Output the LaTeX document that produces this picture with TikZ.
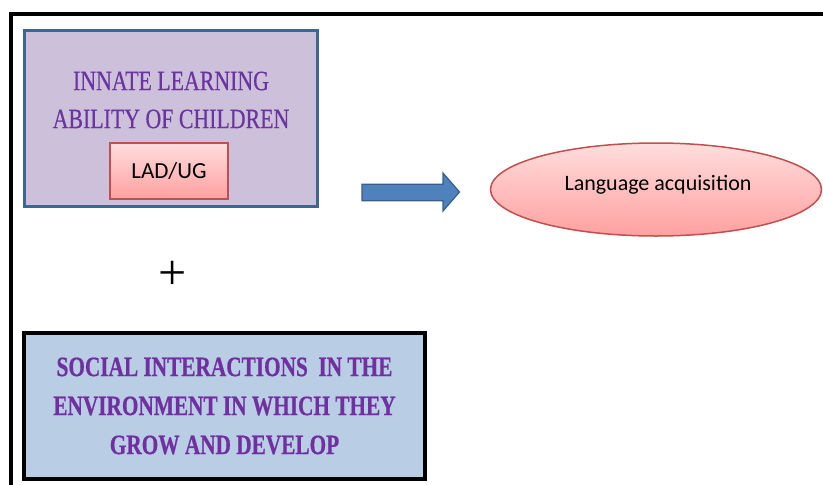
\documentclass[tikz,border=0pt]{standalone}
\usepackage{fontspec}
\setmainfont{Liberation Serif}
\newfontfamily\condserif[FakeStretch=0.78,FakeBold=0.5]{Liberation Serif}
\newfontfamily\condserifb[FakeStretch=0.76,FakeBold=0.6]{Liberation Serif Bold}
\newfontfamily\calib{Carlito}
\usetikzlibrary{shapes.geometric}
\definecolor{boxone}{HTML}{CCC0DA}
\definecolor{boxoneborder}{HTML}{3F6592}
\definecolor{boxtwo}{HTML}{B9CDE5}
\definecolor{purpletext}{HTML}{6A35A0}
\definecolor{purplebold}{HTML}{7030A0}
\definecolor{redborder}{HTML}{C0504D}
\definecolor{pinktop}{HTML}{FFDDDD}
\definecolor{pinkbot}{HTML}{FFA0A0}
\definecolor{arrowfill}{HTML}{4F81BD}
\definecolor{arrowborder}{HTML}{385D8A}
\tikzset{
  frameline/.style={line width=4pt, black},
  innatebox/.style={draw=boxoneborder, line width=3pt, fill=boxone, minimum width=293pt, minimum height=176pt, inner sep=0pt},
  socialbox/.style={draw=black, line width=4pt, fill=boxtwo, minimum width=401pt, minimum height=146pt, inner sep=0pt},
  pinkfill/.style={draw=redborder, line width=1.5pt, top color=pinktop, bottom color=pinkbot},
  ladbox/.style={pinkfill, minimum width=118pt, minimum height=56pt, inner sep=0pt, font={\calib\fontsize{23}{26}\selectfont}},
  acqell/.style={pinkfill, ellipse, minimum width=331pt, minimum height=93pt, inner sep=0pt},
  titletext/.style={align=center, text=purpletext, font={\condserif\fontsize{28}{38}\selectfont}},
  socialtext/.style={align=center, text=purplebold, font={\condserifb\fontsize{28}{39}\selectfont}},
  blockarrow/.style={fill=arrowfill, draw=arrowborder, line width=1.2pt, line join=miter}
}
\begin{document}
\begin{tikzpicture}[x=1pt, y=-1pt]
\useasboundingbox (0,0) rectangle (823,485);
% frame
\coordinate (ftr) at (823,14);
\coordinate (ftl) at (11.3,14);
\coordinate (fbl) at (11.3,485);
\draw[frameline] (ftr) -- (ftl) -- (fbl);
% top box
\node[innatebox] (innate) at (170.5,118) {};
\node[titletext] (innatetxt) at (171,100) {INNATE LEARNING\\ABILITY OF CHILDREN};
\node[ladbox] (lad) at (169,171) {LAD/UG};
% plus
\node[font=\fontsize{50}{50}\selectfont, inner sep=0pt] (plus) at (172.5,275.5) {+};
% bottom box
\node[socialbox] (social) at (224.5,405.5) {};
\node[socialtext] (socialtxt) at (224.5,406) {SOCIAL INTERACTIONS\ \ IN THE\\ENVIRONMENT IN WHICH THEY\\GROW AND DEVELOP};
% arrow
\draw[blockarrow] (362,184.3) -- (443,184.3) -- (443,173) -- (459.5,192) -- (443,211) -- (443,200.7) -- (362,200.7) -- cycle;
% ellipse
\node[acqell] (acq) at (656,189.5) {};
\node[font={\calib\fontsize{22}{26}\selectfont}] (acqtxt) at (658,185) {Language acquisition};
\end{tikzpicture}
\end{document}
